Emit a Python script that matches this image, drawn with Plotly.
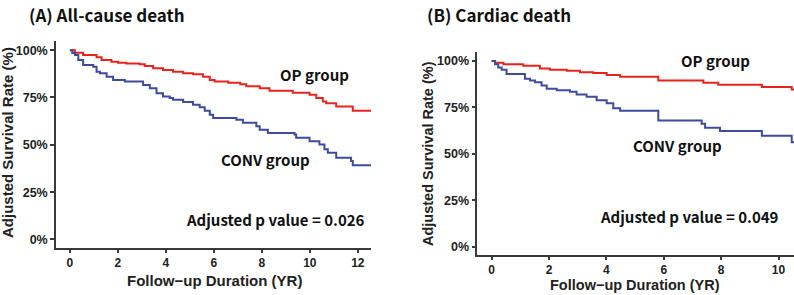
import plotly.graph_objects as go

# ---- data ----
a_op_t = [0, 0.21, 0.55, 1.11, 1.32, 1.73, 2.01, 2.36, 2.91, 3.12, 3.47, 3.88, 4.3, 4.72, 5.13, 5.55,
          5.83, 6.03, 6.6, 7.1, 7.35, 7.91, 8.32, 9.29, 9.99, 10.27, 10.54, 10.68, 11.1, 11.79, 12.55]
a_op_s = [100, 98.6, 97.4, 96.2, 94.8, 93.9, 93.3, 93.0, 92.5, 91.6, 90.4, 89.5, 88.6, 87.8, 87.3, 86.0,
          84.3, 83.4, 82.8, 82.0, 81.0, 79.9, 78.6, 77.5, 76.4, 74.7, 72.9, 72.0, 70.3, 68.0, 68.0]
a_cv_t = [0, 0.1, 0.21, 0.35, 0.55, 0.97, 1.11, 1.25, 1.53, 1.8, 2.29, 3.05, 3.33, 3.61, 3.88, 4.16, 4.3,
          4.72, 5.13, 5.41, 5.62, 5.83, 5.97, 6.94, 7.21, 7.77, 7.91, 8.25, 9.36, 9.43, 9.99, 10.4, 10.61,
          10.75, 11.1, 11.72, 11.79, 12.55]
a_cv_s = [100, 98.5, 97.4, 94.8, 92.1, 91.2, 88.6, 87.8, 86.0, 84.3, 83.4, 81.6, 79.9, 77.3, 75.5, 74.7, 73.8,
          72.6, 71.2, 69.8, 68.0, 65.9, 64.2, 63.3, 61.6, 59.8, 58.0, 56.3, 55.4, 53.7, 51.9, 50.2, 47.6,
          45.8, 43.2, 41.4, 39.2, 39.2]

b_op_t = [0, 0.12, 0.41, 1.1, 1.68, 2.03, 2.62, 3.08, 3.54, 4.01, 4.48, 5.81, 7.38, 7.9, 9.42, 10.46, 10.54]
b_op_s = [100, 99.1, 98.3, 97.4, 96.0, 95.3, 94.7, 93.9, 93.5, 92.5, 91.5, 89.5, 88.3, 87.2, 86.0, 84.7, 84.7]
b_cv_t = [0, 0.12, 0.23, 0.35, 0.52, 1.16, 1.34, 1.51, 1.74, 1.92, 2.27, 2.73, 2.96, 3.31, 3.66, 4.01, 4.24,
          4.48, 5.81, 7.32, 7.44, 7.96, 9.42, 10.46, 10.54]
b_cv_s = [100, 98.2, 96.5, 95.3, 93.0, 90.4, 89.5, 88.6, 86.8, 85.1, 84.2, 83.4, 81.9, 80.7, 78.9, 77.2, 74.6,
          73.2, 68.0, 66.2, 64.0, 62.3, 59.7, 56.2, 56.2]

y_tickvals = [0, 25, 50, 75, 100]
y_ticktext = ["0%", "25%", "50%", "75%", "100%"]
a_xticks = [0, 2, 4, 6, 8, 10, 12]
b_xticks = [0, 2, 4, 6, 8, 10]

RED = "#E8231C"
BLUE = "#3D4B9C"
AXC = "#3a3a3a"
TICKFONT = dict(family="Arial", size=12.5, color="#222", weight="bold")
XTICKFONT = dict(family="Arial", size=12, color="#222", weight="bold")
LBLFONT = dict(family="Noto Sans CJK KR", size=15, color="#111", weight=700)

fig = go.Figure()
fig.add_trace(go.Scatter(x=a_op_t, y=a_op_s, mode="lines", line=dict(color=RED, width=2, shape="hv"),
                         xaxis="x", yaxis="y", showlegend=False))
fig.add_trace(go.Scatter(x=a_cv_t, y=a_cv_s, mode="lines", line=dict(color=BLUE, width=2, shape="hv"),
                         xaxis="x", yaxis="y", showlegend=False))
fig.add_trace(go.Scatter(x=b_op_t, y=b_op_s, mode="lines", line=dict(color=RED, width=2, shape="hv"),
                         xaxis="x2", yaxis="y2", showlegend=False))
fig.add_trace(go.Scatter(x=b_cv_t, y=b_cv_s, mode="lines", line=dict(color=BLUE, width=2, shape="hv"),
                         xaxis="x2", yaxis="y2", showlegend=False))

def xax(dom, rng, ticks, anchor):
    return dict(domain=dom, range=rng, tickvals=ticks, ticks="outside", ticklen=3, tickwidth=1.5,
                tickcolor=AXC, showline=True, linecolor=AXC, linewidth=1.5, showgrid=False,
                zeroline=False, tickfont=XTICKFONT, anchor=anchor, fixedrange=True)

def yax(dom, anchor):
    return dict(domain=dom, range=[-4.5, 105], tickvals=y_tickvals, ticktext=y_ticktext, ticks="outside",
                ticklen=4, tickwidth=1.5, tickcolor=AXC, showline=True, linecolor=AXC, linewidth=1.5,
                showgrid=False, zeroline=False, tickfont=TICKFONT, anchor=anchor, fixedrange=True)

fig.update_layout(
    width=794, height=295, margin=dict(l=0, r=0, t=0, b=0), autosize=False,
    paper_bgcolor="white", plot_bgcolor="white",
    xaxis=xax([56 / 794, 371 / 794], [-0.58, 12.55], a_xticks, "y"),
    yaxis=yax([1 - 248 / 295, 1 - 40.7 / 295], "x"),
    xaxis2=xax([477.3 / 794, 1.0], [-0.5, 10.54], b_xticks, "y2"),
    yaxis2=yax([1 - 255 / 295, 1 - 51.7 / 295], "x2"),
)

TTLF = dict(family="Noto Sans CJK KR", size=17, color="#111", weight=700)
ann = []
# panel titles
ann.append(dict(text="(A) All-cause death", xref="paper", yref="paper", x=27 / 794, y=1,
                xanchor="left", yanchor="top", showarrow=False, font=TTLF))
ann.append(dict(text="(B) Cardiac death", xref="paper", yref="paper", x=425.5 / 794, y=1,
                xanchor="left", yanchor="top", showarrow=False, font=TTLF))
# axis titles
AXTF = dict(family="Arial", size=15, color="#222", weight="bold")
AXTF2 = dict(family="Arial", size=14.5, color="#222", weight="bold")
ann.append(dict(text="Adjusted Survival Rate (%)", xref="paper", yref="paper", x=7.5 / 794, y=1 - 142.5 / 295,
                xanchor="center", yanchor="middle", textangle=-90, showarrow=False, font=AXTF))
ann.append(dict(text="Adjusted Survival Rate (%)", xref="paper", yref="paper", x=428 / 794, y=1 - 154 / 295,
                xanchor="center", yanchor="middle", textangle=-90, showarrow=False, font=AXTF2))
ann.append(dict(text="Follow\u2212up Duration (YR)", xref="paper", yref="paper", x=214.3 / 794, y=1 - 280 / 295,
                xanchor="center", yanchor="middle", showarrow=False, font=AXTF))
ann.append(dict(text="Follow\u2212up Duration (YR)", xref="paper", yref="paper", x=635 / 794, y=0,
                xanchor="center", yanchor="bottom", showarrow=False, font=AXTF2))
# in-plot labels
ann.append(dict(text="OP group", xref="x", yref="y", x=10.2, y=86.9, showarrow=False, font=LBLFONT))
ann.append(dict(text="CONV group", xref="x", yref="y", x=8.14, y=42.3, showarrow=False, font=LBLFONT))
ann.append(dict(text="Adjusted p value = 0.026", xref="x", yref="y", x=12.4, y=10.3, xanchor="right",
                showarrow=False, font=LBLFONT))
ann.append(dict(text="OP group", xref="x2", yref="y2", x=7.8, y=100, showarrow=False, font=LBLFONT))
ann.append(dict(text="CONV group", xref="x2", yref="y2", x=6.48, y=54.6, showarrow=False, font=LBLFONT))
ann.append(dict(text="Adjusted p value = 0.049", xref="x2", yref="y2", x=10.1, y=16.2, xanchor="right",
                showarrow=False, font=LBLFONT))
fig.update_layout(annotations=ann)

fig.write_html("out.html")
